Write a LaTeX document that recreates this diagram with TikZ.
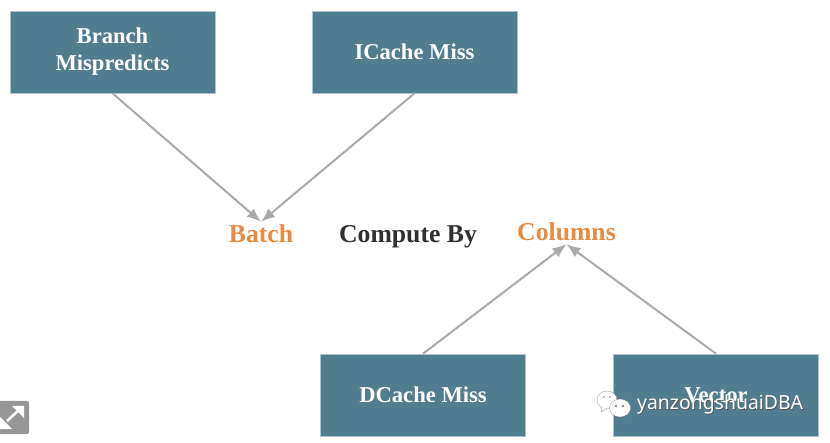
\documentclass[tikz,border=0pt]{standalone}
\usepackage{fontspec}
\setmainfont{Liberation Serif}
\newfontfamily\markfont{Noto Sans}
\usepackage{tikz}
\usetikzlibrary{arrows.meta, positioning}
\definecolor{boxFill}{RGB}{80, 125, 143}
\definecolor{boxEdge}{RGB}{170, 195, 205}
\definecolor{edgeColor}{RGB}{170, 170, 170}
\definecolor{accentColor}{RGB}{232, 138, 66}
\definecolor{primaryColor}{RGB}{48, 48, 50}
\definecolor{iconGray}{RGB}{150, 150, 150}
\tikzset{
    cost_box/.style={
        draw=boxEdge,
        fill=boxFill,
        text=white,
        line width=0.6pt,
        align=center,
        minimum width=205pt,
        minimum height=82pt,
        font=\fontsize{22.6}{27}\selectfont\bfseries
    },
    cost_edge/.style={
        -{Latex[length=14pt,width=11pt]},
        line width=2pt,
        draw=edgeColor
    },
    word_label/.style={
        inner sep=0pt,
        anchor=base,
        text height=21pt,
        text depth=3pt,
        font=\fontsize{25.7}{30}\selectfont\bfseries
    },
    mark_text/.style={
        inner sep=0pt,
        font=\markfont\fontsize{19.4}{24}\selectfont
    },
    bubble/.style={
        draw=black!45,
        line width=0.3pt,
        fill=white
    }
}
\begin{document}
\begin{tikzpicture}[x=1pt, y=-1pt]
        \useasboundingbox (0,0) rectangle (830,443);
        \fill[white] (0,0) rectangle (830,443);

        % boxes
        \node[cost_box] (branch) at (112.5,52) {Branch\\Mispredicts};
        \node[cost_box] (icache) at (414.5,52) {ICache Miss};
        \node[cost_box] (dcache) at (423,395) {DCache Miss};
        \node[cost_box] (vector) at (716,395) {Vector};

        % labels
        \node[word_label, text=accentColor] (batch) at (261,243) {Batch};
        \node[word_label, text=primaryColor] (compute) at (408,243) {Compute By};
        \node[word_label, text=accentColor] (columns) at (566.5,241) {Columns};

        \draw[cost_edge] (branch.south) -- (batch.north);
        \draw[cost_edge] (icache.south) -- (batch.north);
        \draw[cost_edge] (dcache.north) -- (columns.south);
        \draw[cost_edge] (vector.north) -- (columns.south);

        % expand icon
        \fill[iconGray, rounded corners=2pt] (-6,401) rectangle (29,434);
        \draw[white, line width=2.6pt] (7,421) -- (18,411);
        \fill[white] (24,406) -- (24,418) -- (12,406) -- cycle;
        \fill[white] (0,429) -- (12,429) -- (0,417) -- cycle;

        % watermark
        \fill[bubble] (607,400) ellipse (10 and 9);
        \draw[bubble] (602,407) -- (601,412) -- (607,408);
        \draw[bubble] (620,408) ellipse (10.5 and 9);
        \fill[black!60] (616,406) circle (1.1) (623,406) circle (1.1);
        \fill[black!50] (604,397) circle (0.9) (610,397) circle (0.9);
        \node[mark_text, text=black!65, anchor=west] (markshadow) at (638,405) {yanzongshuaiDBA};
        \node[mark_text, text=white, anchor=west] (mark) at (637,404) {yanzongshuaiDBA};
    \end{tikzpicture}
\end{document}
